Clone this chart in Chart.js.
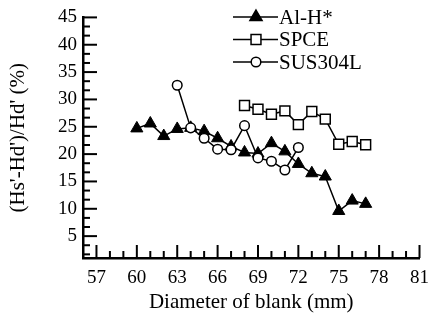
<!DOCTYPE html>
<html>
<head>
<meta charset="utf-8">
<script src="https://cdn.jsdelivr.net/npm/chart.js@4/dist/chart.umd.min.js"></script>
<style>
  html, body { margin: 0; padding: 0; background: #fff; }
  #wrap { width: 438px; height: 318px; }
</style>
</head>
<body>
<div id="wrap"><canvas id="chart" width="438" height="318"></canvas></div>
<script>
// data
const alhX = [60, 61, 62, 63, 64, 65, 66, 67, 68, 69, 70, 71, 72, 73, 74, 75, 76, 77];
const alhY = [24.7, 25.6, 23.3, 24.6, 24.8, 24.2, 22.9, 21.4, 20.3, 20.1, 22.0, 20.5, 18.2, 16.5, 15.9, 9.6, 11.5, 10.9];
const spceX = [68, 69, 70, 71, 72, 73, 74, 75, 76, 77];
const spceY = [28.9, 28.2, 27.3, 27.9, 25.4, 27.8, 26.4, 21.8, 22.3, 21.7];
const susX = [63, 64, 65, 66, 67, 68, 69, 70, 71, 72];
const susY = [32.6, 24.8, 22.9, 20.9, 20.8, 25.2, 19.3, 18.7, 17.1, 21.2];
const xTickLabels = [57, 60, 63, 66, 69, 72, 75, 78, 81];
const yTickLabels = [5, 10, 15, 20, 25, 30, 35, 40, 45];

const serif = 'Liberation Serif';

function toPoints(xs, ys) {
    return xs.map((x, i) => ({x: x, y: ys[i]}));
}

// ticks point inward like the original plot
const innerTicks = {
    id: 'innerTicks',
    afterDraw(chart) {
        const ctx = chart.ctx;
        const xs = chart.scales.x, ys = chart.scales.y;
        const a = chart.chartArea;
        ctx.save();
        ctx.strokeStyle = '#000';
        ctx.lineWidth = 2;
        for (let k = 0; k <= 26; k++) {
            const v = 45 - k * 5 / 3;
            const py = ys.getPixelForValue(v);
            const len = (k % 3 === 0) ? 14 : 7;
            ctx.beginPath();
            ctx.moveTo(a.left, py);
            ctx.lineTo(a.left + len, py);
            ctx.stroke();
        }
        for (let v = 57; v <= 81; v++) {
            const px = xs.getPixelForValue(v);
            const len = ((v - 57) % 3 === 0) ? 13 : 7;
            ctx.beginPath();
            ctx.moveTo(px, a.bottom);
            ctx.lineTo(px, a.bottom - len);
            ctx.stroke();
        }
        ctx.restore();
    }
};

// legend with line + marker, like the figure
const lineLegend = {
    id: 'lineLegend',
    afterDraw(chart) {
        const ctx = chart.ctx;
        ctx.save();
        chart.data.datasets.forEach((ds, i) => {
            const y = 17 + i * 22.5;
            ctx.strokeStyle = '#000';
            ctx.lineWidth = 1.5;
            ctx.beginPath();
            ctx.moveTo(233, y);
            ctx.lineTo(278, y);
            ctx.stroke();
            ctx.fillStyle = ds.pointBackgroundColor;
            ctx.strokeStyle = '#000';
            ctx.lineWidth = 1.5;
            Chart.helpers.drawPoint(ctx, {pointStyle: ds.pointStyle, radius: ds.pointRadius, borderWidth: 1.5}, 256, y);
            ctx.fillStyle = '#000';
            ctx.font = '21px "' + serif + '"';
            ctx.textAlign = 'left';
            ctx.textBaseline = 'middle';
            ctx.fillText(ds.label, 279, y + 1);
        });
        ctx.restore();
    }
};

const config = {
    type: 'line',
    data: {
        datasets: [
            {
                label: 'Al-H*',
                data: toPoints(alhX, alhY),
                borderColor: '#000',
                borderWidth: 1.5,
                pointStyle: 'triangle',
                pointRadius: 7,
                pointBackgroundColor: '#000',
                pointBorderColor: '#000',
                pointBorderWidth: 1,
                order: 3
            },
            {
                label: 'SPCE',
                data: toPoints(spceX, spceY),
                borderColor: '#000',
                borderWidth: 1.5,
                pointStyle: 'rect',
                pointRadius: 7,
                pointBackgroundColor: '#fff',
                pointBorderColor: '#000',
                pointBorderWidth: 1.5,
                order: 2
            },
            {
                label: 'SUS304L',
                data: toPoints(susX, susY),
                borderColor: '#000',
                borderWidth: 1.5,
                pointStyle: 'circle',
                pointRadius: 4.8,
                pointBackgroundColor: '#fff',
                pointBorderColor: '#000',
                pointBorderWidth: 1.5,
                order: 1
            }
        ]
    },
    options: {
        responsive: false,
        animation: false,
        layout: {
            padding: {top: 12, right: 8, left: 0, bottom: 0}
        },
        plugins: {
            legend: {display: false},
            tooltip: {enabled: false}
        },
        scales: {
            x: {
                type: 'linear',
                min: 56,
                max: 81,
                afterBuildTicks: (scale) => {
                    scale.ticks = xTickLabels.map(v => ({value: v}));
                },
                afterFit: (scale) => { scale.height = 60; },
                grid: {display: false, drawTicks: false},
                border: {display: true, width: 2.5, color: '#000'},
                ticks: {
                    color: '#000',
                    padding: 9,
                    maxRotation: 0,
                    autoSkip: false,
                    font: {family: serif, size: 19}
                },
                title: {
                    display: true,
                    text: 'Diameter of blank (mm)',
                    color: '#000',
                    font: {family: serif, size: 21},
                    padding: {top: 0, bottom: 3}
                }
            },
            y: {
                type: 'linear',
                min: 1,
                max: 45,
                afterBuildTicks: (scale) => {
                    scale.ticks = yTickLabels.map(v => ({value: v}));
                },
                afterFit: (scale) => { scale.width = 83; },
                grid: {display: false, drawTicks: false},
                border: {display: true, width: 2.5, color: '#000'},
                ticks: {
                    color: '#000',
                    padding: 6,
                    autoSkip: false,
                    font: {family: serif, size: 19}
                },
                title: {
                    display: true,
                    text: "(Hs'-Hd')/Hd' (%)",
                    color: '#000',
                    font: {family: serif, size: 21},
                    padding: {top: 6, bottom: 0}
                }
            }
        }
    },
    plugins: [innerTicks, lineLegend]
};

new Chart(document.getElementById('chart'), config);
</script>
</body>
</html>
